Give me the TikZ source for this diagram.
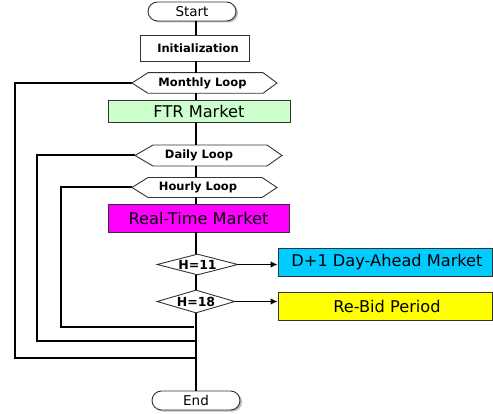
\documentclass[tikz,border=0pt]{standalone}
\usepackage{fontspec}
\setmainfont{DejaVu Sans}
\usetikzlibrary{shapes.geometric,arrows.meta,shadows}
\definecolor{ftrgreen}{HTML}{CCFFCC}
\definecolor{dacyan}{HTML}{00CCFF}
\definecolor{rtmagenta}{HTML}{FF00FF}
\definecolor{rbyellow}{HTML}{FFFF00}
\definecolor{boxline}{HTML}{333333}
\begin{document}
\begin{tikzpicture}[x=1pt,y=-1pt,
  conn/.style={line width=2pt,black},
  arr/.style={line width=1.2pt,black,-{Latex[length=7pt,width=6.5pt]}},
  bigbox/.style={draw=boxline,line width=0.9pt,rectangle,inner sep=0pt,font=\fontsize{16.2}{19}\selectfont},
  hexline/.style={draw=boxline,line width=0.9pt,fill=white},
  smalltxt/.style={inner sep=0pt,font=\fontsize{11.5}{13}\selectfont\bfseries},
  term/.style={draw=boxline,line width=0.9pt,fill=white,rectangle,rounded corners=9.5pt,
     minimum width=88pt,minimum height=19pt,inner sep=0pt,font=\fontsize{13.5}{15}\selectfont,
     drop shadow={shadow xshift=2pt,shadow yshift=-1.5pt,fill=gray!55,opacity=1}},
  dia/.style={draw=boxline,line width=0.9pt,fill=white,diamond,aspect=4,inner sep=0pt,font=\fontsize{12.5}{14}\selectfont\bfseries}
]
\useasboundingbox (0,0) rectangle (493,414);
\coordinate (mx) at (195.5,0);

% loop return lines
\coordinate (mL) at (132,83);
\coordinate (dL) at (135,155.5);
\coordinate (hL) at (132,187.5);
\coordinate (mret) at (195.5,358);
\coordinate (dret) at (195.5,341);
\coordinate (hret) at (194,327);
\draw[conn] (mL) -- (15,83) |- (mret);
\draw[conn] (dL) -- (37,155.5) |- (dret);
\draw[conn] (hL) -- (61,187.5) |- (hret);

% terminals
\node[term] (start) at (192,11.5) {Start};
\node[term] (endn) at (196,400.5) {End};

% boxes
\node[draw=boxline,line width=0.9pt,fill=white,minimum width=109pt,minimum height=26pt,inner sep=0pt,
      font=\fontsize{11.5}{13}\selectfont\bfseries] (init) at (194.5,48) {\hspace*{7pt}Initialization};
\node[bigbox,fill=ftrgreen,minimum width=182pt,minimum height=22pt] (ftr) at (199,111) {FTR Market};
\node[bigbox,fill=rtmagenta,minimum width=181pt,minimum height=28pt] (rt) at (198.5,218) {Real-Time Market};
\node[bigbox,fill=dacyan,minimum width=214pt,minimum height=28pt] (dam) at (385,262) {\hspace*{4pt}D+1 Day-Ahead Market};
\node[bigbox,fill=rbyellow,minimum width=214pt,minimum height=28pt] (rebid) at (385,306) {\hspace*{4pt}Re-Bid Period};

% hexagons
\draw[hexline] (mL) -- (148,72.7) -- (263,72.7) -- (277,83) -- (263,93.3) -- (148,93.3) -- cycle;
\node[smalltxt] (monthly) at (202.5,83) {Monthly Loop};
\coordinate (mtop) at (195.5,72.7);
\coordinate (mbot) at (195.5,93.3);
\draw[hexline] (dL) -- (153,145) -- (267,145) -- (282,155.5) -- (267,166) -- (153,166) -- cycle;
\node[smalltxt] (daily) at (199,155.5) {Daily Loop};
\coordinate (dtop) at (195.5,145);
\coordinate (dbot) at (195.5,166);
\draw[hexline] (hL) -- (148,177.5) -- (262,177.5) -- (277,187.5) -- (262,197.5) -- (148,197.5) -- cycle;
\node[smalltxt] (hourly) at (198,187.5) {Hourly Loop};
\coordinate (htop) at (195.5,177.5);
\coordinate (hbot) at (195.5,197.5);

% diamonds
\node[dia,minimum width=81pt,minimum height=21pt] (h11) at (197.5,264.5) {H=11};
\node[dia,minimum width=78pt,minimum height=23pt] (h18) at (196,301.5) {H=18};

% main line
\draw[conn] (start.south -| mx) -- (init.north -| mx);
\draw[conn] (init.south -| mx) -- (mtop);
\draw[conn] (mbot) -- (ftr.north -| mx);
\draw[conn] (ftr.south -| mx) -- (dtop);
\draw[conn] (dbot) -- (htop);
\draw[conn] (hbot) -- (rt.north -| mx);
\draw[conn] (rt.south -| mx) -- (h11.north -| mx);
\draw[conn] (h11.south -| mx) -- (h18.north -| mx);
\draw[conn] (h18.south -| mx) -- (endn.north -| mx);

% arrows
\draw[arr] (h11.east) -- (h11.east -| dam.west);
\draw[arr] (h18.east) -- (h18.east -| rebid.west);
\end{tikzpicture}
\end{document}
